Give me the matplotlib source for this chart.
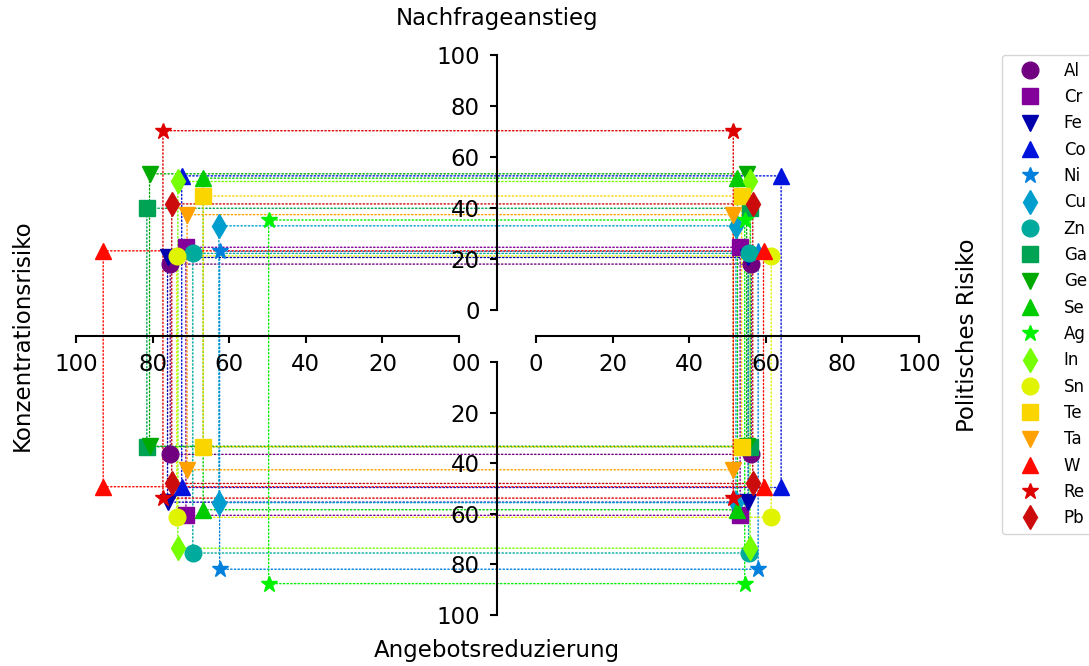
import matplotlib
matplotlib.use("Agg")
import matplotlib.pyplot as plt
import numpy as np
from matplotlib.patches import ConnectionPatch

# Rohstoffe und ihre vier Risikodimensionen (0-100)
elements = ["Al", "Cr", "Fe", "Co", "Ni", "Cu", "Zn", "Ga", "Ge",
            "Se", "Ag", "In", "Sn", "Te", "Ta", "W", "Re", "Pb"]
konzentration = [75.4, 71.3, 76.1, 72.4, 62.5, 62.7, 69.5, 81.5, 80.8,
                 66.8, 49.7, 73.4, 73.7, 66.8, 71.0, 92.9, 77.3, 75.0]
politisch = [56.2, 53.3, 55.4, 64.0, 58.0, 52.2, 55.5, 56.0, 55.0,
             52.6, 54.5, 55.9, 61.4, 53.7, 51.5, 59.4, 51.5, 56.6]
nachfrage = [18.0, 24.6, 20.6, 52.6, 23.0, 33.0, 22.2, 39.9, 53.4,
             51.7, 35.3, 50.4, 21.2, 44.7, 37.4, 23.2, 70.3, 41.6]
angebot = [36.5, 60.6, 55.4, 49.6, 81.9, 55.6, 75.5, 33.5, 33.3,
           58.4, 87.6, 73.6, 61.4, 33.5, 42.6, 49.3, 53.8, 48.0]

markers = ["o", "s", "v", "^", "*", "d"] * 3
colors = plt.cm.nipy_spectral(np.linspace(0.05, 0.95, len(elements)))
ticks = [0, 20, 40, 60, 80, 100]

W, H = 1089, 666
fig = plt.figure(figsize=(W / 100, H / 100), dpi=100)


def rect(l, t, r, b):
    return [l / W, 1 - b / H, (r - l) / W, (b - t) / H]


ax_tl = fig.add_axes(rect(76, 55, 459, 310))
ax_tr = fig.add_axes(rect(536, 55, 919, 310))
ax_bl = fig.add_axes(rect(76, 362, 459, 615))
ax_br = fig.add_axes(rect(536, 362, 919, 615))

ax_tl.set_xlim(100, 0); ax_tl.set_ylim(0, 100)
ax_tr.set_xlim(0, 100); ax_tr.set_ylim(0, 100)
ax_bl.set_xlim(100, 0); ax_bl.set_ylim(100, 0)
ax_br.set_xlim(0, 100); ax_br.set_ylim(100, 0)

for ax in (ax_tl, ax_tr, ax_bl, ax_br):
    ax.set_facecolor("none")
    for sp in ax.spines.values():
        sp.set_visible(False)
        sp.set_linewidth(1.5)
    ax.tick_params(left=False, bottom=False, labelleft=False, labelbottom=False,
                   labelsize=16.5, width=1.5, length=5, pad=7.5)
    ax.set_xticks(ticks)
    ax.set_yticks(ticks)

# Achse Konzentrations- bzw. politisches Risiko (unter den oberen Quadranten)
for ax in (ax_tl, ax_tr):
    ax.spines["bottom"].set_visible(True)
    ax.spines["bottom"].set_position(("outward", 18.5))
    ax.tick_params(bottom=True, labelbottom=True)

# Achse Nachfrageanstieg / Angebotsreduzierung (zwischen den Quadranten)
for ax in (ax_tr, ax_br):
    ax.spines["left"].set_visible(True)
    ax.spines["left"].set_position(("outward", 28))
    ax.tick_params(left=True, labelleft=True)

for i, el in enumerate(elements):
    K, P, N, A = konzentration[i], politisch[i], nachfrage[i], angebot[i]
    c = colors[i]
    kw = dict(marker=markers[i], color=c, ms=12, ls="none", clip_on=False, zorder=3)
    ax_tl.plot([K], [N], label=el, **kw)
    ax_tr.plot([P], [N], **kw)
    ax_bl.plot([K], [A], **kw)
    ax_br.plot([P], [A], **kw)
    pairs = [((K, N), ax_tl, (P, N), ax_tr),
             ((K, N), ax_tl, (K, A), ax_bl),
             ((P, N), ax_tr, (P, A), ax_br),
             ((K, A), ax_bl, (P, A), ax_br)]
    for xyA, axA, xyB, axB in pairs:
        con = ConnectionPatch(xyA=xyA, coordsA=axA.transData,
                              xyB=xyB, coordsB=axB.transData,
                              color=c, lw=1.0, ls=":", zorder=-1)
        fig.add_artist(con)

handles, labels = ax_tl.get_legend_handles_labels()
fig.legend(handles, labels, loc="upper left",
           bbox_to_anchor=(1002 / W, 1 - 55 / H), borderaxespad=0,
           fontsize=12, numpoints=1, handlelength=2.5, handletextpad=0.8)

fig.text(497 / W, 1 - 19 / H, "Nachfrageanstieg", ha="center", va="center", fontsize=16.5)
fig.text(497 / W, 1 - 650 / H, "Angebotsreduzierung", ha="center", va="center", fontsize=16.5)
fig.text(22 / W, 1 - 335 / H, "Konzentrationsrisiko", rotation=90,
         ha="center", va="center", fontsize=16.5)
fig.text(968 / W, 1 - 335 / H, "Politisches Risiko", rotation=90,
         ha="center", va="center", fontsize=16.5)

fig.savefig("out.png", dpi=100)
